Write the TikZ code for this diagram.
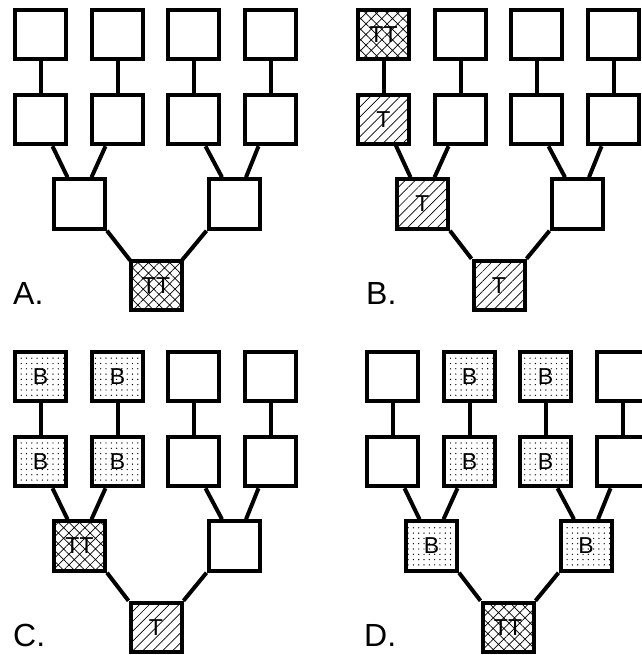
\documentclass[tikz,border=0pt]{standalone}
\usepackage{fontspec}
\setmainfont{Liberation Sans}
\usetikzlibrary{patterns,patterns.meta}
\tikzset{
cell/.style={
  draw=black,
  line width=4pt,
  minimum width=51pt,
  minimum height=49.5pt,
  inner sep=0pt,
  font=\fontsize{23}{23}\selectfont
  },
cellTT/.style={cell,pattern={Hatch[angle=45,distance=7.5pt,line width=0.7pt]}},
cellT/.style={cell,pattern={Lines[angle=45,distance=7pt,line width=0.7pt]}},
cellB/.style={cell,pattern={Dots[distance=5.3pt,radius=0.7pt]}},
link/.style={line width=4pt},
lbl/.style={anchor=base west,inner sep=0pt,font=\fontsize{32}{32}\selectfont}
}

\begin{document}
\begin{tikzpicture}[x=1pt,y=-1pt]
\useasboundingbox (0,0) rectangle (641,655);

% panel A
\begin{scope}
\node[cell] (A-1-1) at (40.5,34.5) {};
\node[cell] (A-1-2) at (117.5,34.5) {};
\node[cell] (A-1-3) at (193.5,34.5) {};
\node[cell] (A-1-4) at (270.5,34.5) {};
\node[cell] (A-2-1) at (40.5,119.5) {};
\node[cell] (A-2-2) at (117.5,119.5) {};
\node[cell] (A-2-3) at (193.5,119.5) {};
\node[cell] (A-2-4) at (270.5,119.5) {};
\node[cell] (A-3-1) at (79.5,204) {};
\node[cell] (A-3-2) at (234,204) {};
\node[cellTT] (A-4-1) at (156,285.5) {TT};
\node[lbl] (A-lbl) at (13,304) {A.};

\draw[link] (A-1-1) -- (A-2-1);
\draw[link] (A-1-2) -- (A-2-2);
\draw[link] (A-1-3) -- (A-2-3);
\draw[link] (A-1-4) -- (A-2-4);
\draw[link] ([xshift=12pt]A-2-1.south) -- ([xshift=-12pt]A-3-1.north);
\draw[link] ([xshift=-12pt]A-2-2.south) -- ([xshift=12pt]A-3-1.north);
\draw[link] ([xshift=12pt]A-2-3.south) -- ([xshift=-12pt]A-3-2.north);
\draw[link] ([xshift=-12pt]A-2-4.south) -- ([xshift=12pt]A-3-2.north);
\draw[link] (A-3-1.south east) -- (A-4-1.north west);
\draw[link] (A-3-2.south west) -- (A-4-1.north east);
\end{scope}

% panel B
\begin{scope}[shift={(343,0)}]
\node[cellTT] (B-1-1) at (40.5,34.5) {TT};
\node[cell] (B-1-2) at (117.5,34.5) {};
\node[cell] (B-1-3) at (193.5,34.5) {};
\node[cell] (B-1-4) at (270.5,34.5) {};
\node[cellT] (B-2-1) at (40.5,119.5) {T};
\node[cell] (B-2-2) at (117.5,119.5) {};
\node[cell] (B-2-3) at (193.5,119.5) {};
\node[cell] (B-2-4) at (270.5,119.5) {};
\node[cellT] (B-3-1) at (79.5,204) {T};
\node[cell] (B-3-2) at (234,204) {};
\node[cellT] (B-4-1) at (156,285.5) {T};
\node[lbl] (B-lbl) at (23,304) {B.};

\draw[link] (B-1-1) -- (B-2-1);
\draw[link] (B-1-2) -- (B-2-2);
\draw[link] (B-1-3) -- (B-2-3);
\draw[link] (B-1-4) -- (B-2-4);
\draw[link] ([xshift=12pt]B-2-1.south) -- ([xshift=-12pt]B-3-1.north);
\draw[link] ([xshift=-12pt]B-2-2.south) -- ([xshift=12pt]B-3-1.north);
\draw[link] ([xshift=12pt]B-2-3.south) -- ([xshift=-12pt]B-3-2.north);
\draw[link] ([xshift=-12pt]B-2-4.south) -- ([xshift=12pt]B-3-2.north);
\draw[link] (B-3-1.south east) -- (B-4-1.north west);
\draw[link] (B-3-2.south west) -- (B-4-1.north east);
\end{scope}

% panel C
\begin{scope}[shift={(0,342)}]
\node[cellB] (C-1-1) at (40.5,34.5) {B};
\node[cellB] (C-1-2) at (117.5,34.5) {B};
\node[cell] (C-1-3) at (193.5,34.5) {};
\node[cell] (C-1-4) at (270.5,34.5) {};
\node[cellB] (C-2-1) at (40.5,119.5) {B};
\node[cellB] (C-2-2) at (117.5,119.5) {B};
\node[cell] (C-2-3) at (193.5,119.5) {};
\node[cell] (C-2-4) at (270.5,119.5) {};
\node[cellTT] (C-3-1) at (79.5,204) {TT};
\node[cell] (C-3-2) at (234,204) {};
\node[cellT] (C-4-1) at (156,285.5) {T};
\node[lbl] (C-lbl) at (13,304) {C.};

\draw[link] (C-1-1) -- (C-2-1);
\draw[link] (C-1-2) -- (C-2-2);
\draw[link] (C-1-3) -- (C-2-3);
\draw[link] (C-1-4) -- (C-2-4);
\draw[link] ([xshift=12pt]C-2-1.south) -- ([xshift=-12pt]C-3-1.north);
\draw[link] ([xshift=-12pt]C-2-2.south) -- ([xshift=12pt]C-3-1.north);
\draw[link] ([xshift=12pt]C-2-3.south) -- ([xshift=-12pt]C-3-2.north);
\draw[link] ([xshift=-12pt]C-2-4.south) -- ([xshift=12pt]C-3-2.north);
\draw[link] (C-3-1.south east) -- (C-4-1.north west);
\draw[link] (C-3-2.south west) -- (C-4-1.north east);
\end{scope}

% panel D
\begin{scope}[shift={(352,342)}]
\node[cell] (D-1-1) at (40.5,34.5) {};
\node[cellB] (D-1-2) at (117.5,34.5) {B};
\node[cellB] (D-1-3) at (193.5,34.5) {B};
\node[cell] (D-1-4) at (270.5,34.5) {};
\node[cell] (D-2-1) at (40.5,119.5) {};
\node[cellB] (D-2-2) at (117.5,119.5) {B};
\node[cellB] (D-2-3) at (193.5,119.5) {B};
\node[cell] (D-2-4) at (270.5,119.5) {};
\node[cellB] (D-3-1) at (79.5,204) {B};
\node[cellB] (D-3-2) at (234,204) {B};
\node[cellTT] (D-4-1) at (156,285.5) {TT};
\node[lbl] (D-lbl) at (12,304) {D.};

\draw[link] (D-1-1) -- (D-2-1);
\draw[link] (D-1-2) -- (D-2-2);
\draw[link] (D-1-3) -- (D-2-3);
\draw[link] (D-1-4) -- (D-2-4);
\draw[link] ([xshift=12pt]D-2-1.south) -- ([xshift=-12pt]D-3-1.north);
\draw[link] ([xshift=-12pt]D-2-2.south) -- ([xshift=12pt]D-3-1.north);
\draw[link] ([xshift=12pt]D-2-3.south) -- ([xshift=-12pt]D-3-2.north);
\draw[link] ([xshift=-12pt]D-2-4.south) -- ([xshift=12pt]D-3-2.north);
\draw[link] (D-3-1.south east) -- (D-4-1.north west);
\draw[link] (D-3-2.south west) -- (D-4-1.north east);
\end{scope}

\end{tikzpicture}
\end{document}
